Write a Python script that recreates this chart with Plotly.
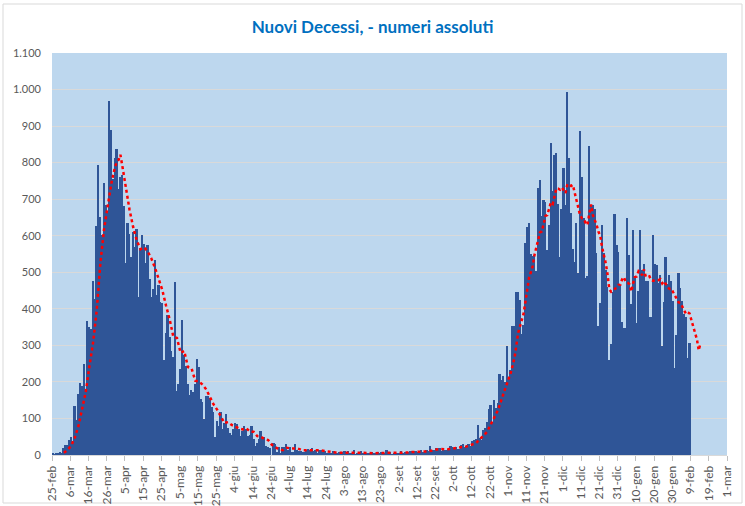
import pandas as pd
import plotly.graph_objects as go

# ---------------- data (daily new deaths) ----------------
start_date = "2020-02-25"

deaths_feb20 = [4, 1, 5, 4, 8]
deaths_mar20 = [5, 18, 27, 28, 41, 49, 36, 133, 97, 168, 196, 189, 250, 175, 368, 349,
                345, 475, 427, 627, 793, 651, 601, 743, 683, 662, 969, 889, 756, 812, 837]
deaths_apr20 = [727, 760, 766, 681, 525, 636, 604, 542, 610, 570, 619, 431, 566, 602, 578,
                525, 575, 482, 433, 454, 534, 437, 464, 420, 415, 260, 333, 382, 323, 285]
deaths_may20 = [269, 474, 174, 195, 236, 369, 274, 243, 194, 165, 179, 172, 195, 262, 242,
                153, 145, 99, 162, 161, 156, 130, 119, 50, 92, 78, 117, 70, 87, 111, 75]
deaths_jun20 = [60, 55, 71, 88, 85, 72, 53, 65, 79, 71, 53, 56, 78, 44, 26, 34, 43, 66, 47,
                49, 24, 23, 18, -31, 34, 30, 8, 22, 6, 23]
deaths_jul20 = [21, 30, 15, 21, 7, 8, 30, 15, 12, 12, 7, 9, 13, 17, 13, 20, 11, 14, 3, 13,
                15, 9, 10, 5, 5, 5, 5, 11, 6, 3, 9]
deaths_aug20 = [5, 8, 12, 5, 10, 6, 3, 13, 2, 4, 6, 10, 6, 3, 3, 4, 4, 7, 6, 6, 9, 3, 7, 4,
                4, 13, 5, 9, 1, 5, 4]
deaths_sep20 = [6, 6, 10, 6, 7, 7, 8, 10, 10, 11, 10, 7, 6, 14, 9, 12, 13, 10, 24, 14, 14,
                20, 14, 19, 10, 17, 15, 13, 17, 24]
deaths_oct20 = [23, 20, 23, 17, 16, 28, 31, 22, 28, 29, 26, 39, 41, 43, 83, 47, 41, 69, 73,
                89, 127, 136, 91, 151, 128, 141, 221, 205, 217, 199, 297]
deaths_nov20 = [208, 233, 353, 352, 445, 446, 425, 331, 356, 580, 623, 636, 550, 544, 546,
                504, 731, 753, 653, 699, 692, 562, 630, 853, 722, 822, 827, 686, 541, 672]
deaths_dec20 = [785, 684, 993, 814, 662, 564, 528, 634, 499, 887, 761, 649, 484, 491, 846,
                680, 683, 674, 553, 352, 415, 628, 553, 505, 459, 261, 305, 445, 659, 575, 555]
deaths_jan21 = [462, 364, 347, 348, 649, 548, 414, 617, 483, 361, 448, 616, 507, 522, 475,
                475, 377, 377, 603, 524, 521, 472, 492, 299, 420, 541, 467, 492, 477, 421, 237]
deaths_feb21 = [329, 499, 456, 421, 385, 377, 266, 307]

deaths = (deaths_feb20 + deaths_mar20 + deaths_apr20 + deaths_may20 + deaths_jun20 +
          deaths_jul20 + deaths_aug20 + deaths_sep20 + deaths_oct20 + deaths_nov20 +
          deaths_dec20 + deaths_jan21 + deaths_feb21)
dates = pd.date_range(start_date, periods=len(deaths), freq="D")

# 7-day moving average (red dotted line)
ma_first_dates = ["2020-03-02", "2020-03-04", "2020-03-06", "2020-03-08", "2020-03-10",
                  "2020-03-12", "2020-03-14", "2020-03-16", "2020-03-18", "2020-03-20",
                  "2020-03-22", "2020-03-24", "2020-03-26", "2020-03-28", "2020-03-30",
                  "2020-03-31", "2020-04-01", "2020-04-02", "2020-04-03", "2020-04-04",
                  "2020-04-05", "2020-04-07", "2020-04-09", "2020-04-11", "2020-04-13",
                  "2020-04-15", "2020-04-17", "2020-04-19", "2020-04-21", "2020-04-23",
                  "2020-04-25", "2020-04-27", "2020-04-29", "2020-05-01", "2020-05-03",
                  "2020-05-05", "2020-05-07", "2020-05-09", "2020-05-11", "2020-05-13",
                  "2020-05-15", "2020-05-17", "2020-05-19", "2020-05-21", "2020-05-23",
                  "2020-05-25", "2020-05-27", "2020-05-29", "2020-05-31", "2020-06-02",
                  "2020-06-04", "2020-06-06", "2020-06-08", "2020-06-10", "2020-06-12",
                  "2020-06-14", "2020-06-16", "2020-06-18", "2020-06-20", "2020-06-22",
                  "2020-06-24", "2020-06-26", "2020-06-28", "2020-06-30"]
ma_first_values = [6.4, 13.6, 25.1, 47.4, 78.9, 124.0, 172.6, 242.1, 307.3, 395.1,
                   523.9, 616.7, 680.0, 742.6, 787.7, 801.1, 807.4, 821.4, 792.4, 762.7,
                   729.7, 671.3, 623.4, 586.6, 563.1, 568.0, 556.6, 537.3, 511.6, 482.7,
                   451.0, 409.0, 371.0, 323.9, 320.0, 279.4, 284.4, 240.7, 237.1, 203.1,
                   201.3, 192.6, 179.7, 159.7, 138.9, 124.3, 106.0, 87.6, 90.0, 82.1,
                   78.1, 72.3, 69.9, 73.3, 64.1, 63.7, 51.7, 49.6, 44.1, 40.9,
                   28.0, 21.0, 14.9, 13.1]
ma_summer_dates = ["2020-07-02", "2020-07-05", "2020-07-08", "2020-07-11", "2020-07-14",
                   "2020-07-17", "2020-07-20", "2020-07-23", "2020-07-26", "2020-07-29",
                   "2020-08-01", "2020-08-04", "2020-08-07", "2020-08-10", "2020-08-13",
                   "2020-08-16", "2020-08-19", "2020-08-22", "2020-08-25", "2020-08-28",
                   "2020-08-31", "2020-09-03", "2020-09-06", "2020-09-09", "2020-09-12",
                   "2020-09-15", "2020-09-18", "2020-09-21", "2020-09-24", "2020-09-27",
                   "2020-09-30", "2020-10-03", "2020-10-06", "2020-10-09", "2020-10-12",
                   "2020-10-14", "2020-10-16", "2020-10-18", "2020-10-20", "2020-10-22",
                   "2020-10-24", "2020-10-26", "2020-10-28", "2020-10-30"]
ma_summer_values = [20.0, 17.6, 18.0, 13.0, 12.1, 12.9, 13.0, 10.7, 8.9, 6.7,
                    6.3, 6.9, 7.0, 6.1, 6.3, 5.1, 4.7, 5.6, 5.6, 6.4,
                    5.9, 5.9, 6.6, 8.3, 9.0, 9.6, 10.1, 13.7, 16.4, 15.6,
                    16.4, 19.3, 21.6, 23.6, 29.0, 32.6, 44.0, 51.9, 63.6, 83.1,
                    105.1, 123.3, 153.3, 180.3]
ma_second_start = "2020-11-01"
ma_second_values = [212.6, 225.7, 244.6, 265.6, 298.1, 333.4, 351.7, 369.3, 386.9, 419.3,
                    458.0, 485.3, 500.1, 517.1, 547.9, 569.0, 590.6, 609.1, 611.6, 632.9,
                    654.0, 656.3, 674.3, 691.7, 687.3, 711.4, 729.7, 728.9, 725.9, 731.9,
                    722.1, 716.7, 741.1, 739.3, 735.9, 739.1, 718.6, 697.0, 670.6, 655.4,
                    647.9, 646.0, 634.6, 629.3, 659.6, 685.4, 656.3, 643.9, 630.1, 611.3,
                    600.4, 569.3, 551.1, 525.7, 495.0, 453.3, 446.6, 450.9, 455.3, 458.4,
                    465.6, 466.0, 480.7, 486.7, 472.9, 471.4, 467.6, 447.4, 469.6, 486.6,
                    488.6, 502.9, 498.1, 492.3, 507.7, 487.4, 486.3, 488.6, 478.4, 476.6,
                    479.0, 478.9, 478.4, 480.9, 469.7, 475.9, 467.0, 458.9, 454.7, 455.4,
                    445.3, 436.4, 423.4, 417.4, 415.9, 405.7, 392.6, 386.3, 390.4, 387.3,
                    368.7, 351.2, 333.8, 316.7, 286.5, 307.0]
ma_second_dates = list(pd.date_range(ma_second_start, periods=len(ma_second_values), freq="D"))

ma_dates = (list(pd.to_datetime(ma_first_dates)) + list(pd.to_datetime(ma_summer_dates))
            + ma_second_dates)
ma_values = ma_first_values + ma_summer_values + ma_second_values

tick_labels = ["25-feb", "6-mar", "16-mar", "26-mar", "5-apr", "15-apr", "25-apr", "5-mag",
               "15-mag", "25-mag", "4-giu", "14-giu", "24-giu", "4-lug", "14-lug", "24-lug",
               "3-ago", "13-ago", "23-ago", "2-set", "12-set", "22-set", "2-ott", "12-ott",
               "22-ott", "1-nov", "11-nov", "21-nov", "1-dic", "11-dic", "21-dic", "31-dic",
               "10-gen", "20-gen", "30-gen", "9-feb", "19-feb", "1-mar"]
tick_dates = pd.date_range(start_date, periods=len(tick_labels), freq="10D")
axis_end = "2021-03-01"

title_text = "Nuovi Decessi, - numeri assoluti"

# ---------------- figure ----------------
DAY_MS = 86400000

fig = go.Figure()
fig.add_trace(go.Bar(
    x=dates, y=deaths,
    xperiod=DAY_MS, xperiodalignment="middle",
    marker=dict(color="#2F5597", line=dict(width=0)),
    name="Nuovi decessi",
))
fig.add_trace(go.Scatter(
    x=ma_dates, y=ma_values,
    xperiod=DAY_MS, xperiodalignment="middle",
    mode="lines",
    line=dict(color="#FF0000", width=2.5, dash="dot"),
    name="Media mobile 7 gg",
))

W, H = 745, 506
L, R, T, B = 52, 18, 53, 51
pw, ph = W - L - R, H - T - B

fig.update_layout(
    width=W, height=H,
    margin=dict(l=L, r=R, t=T, b=B, pad=0, autoexpand=False),
    paper_bgcolor="white",
    plot_bgcolor="#BDD7EE",
    bargap=0,
    showlegend=False,
    separators=",.",
    font=dict(family="Lato, Open Sans, sans-serif", color="#595959"),
    title=dict(
        text="<b>" + title_text + "</b>",
        x=0.5, xanchor="center", xref="container",
        y=1 - 27 / H, yanchor="middle", yref="container",
        font=dict(family="Lato, sans-serif", size=17, color="#0070C0"),
    ),
    xaxis=dict(
        type="date",
        range=[start_date, axis_end],
        automargin=False,
        tickmode="array",
        tickvals=tick_dates,
        ticktext=tick_labels,
        tickangle=-90,
        ticks="outside", ticklen=5, tickcolor="#BFBFBF", tickwidth=1,
        showgrid=False,
        showline=True, linecolor="#D9D9D9", linewidth=1,
        zeroline=False,
        tickfont=dict(size=12, color="#595959"),
    ),
    yaxis=dict(
        range=[0, 1100],
        automargin=False,
        tick0=0, dtick=100,
        tickformat=",d",
        showgrid=True, gridcolor="#D9D9D9", gridwidth=1,
        zeroline=False,
        showline=False,
        ticks="",
        ticklabelstandoff=10,
        tickfont=dict(size=11, color="#595959"),
    ),
    shapes=[dict(
        type="rect", xref="paper", yref="paper",
        x0=(3 - L) / pw, x1=(742 - L) / pw,
        y0=-(503 - (H - B)) / ph, y1=((H - B) - 4) / ph,
        line=dict(color="#D9D9D9", width=1),
        fillcolor="rgba(0,0,0,0)", layer="below",
    )],
)

# remove the browser's default 8px body margin so the figure sits at the page origin
fig.write_html("out.html", config={"displayModeBar": False},
               post_script="document.body.style.margin='0';")
